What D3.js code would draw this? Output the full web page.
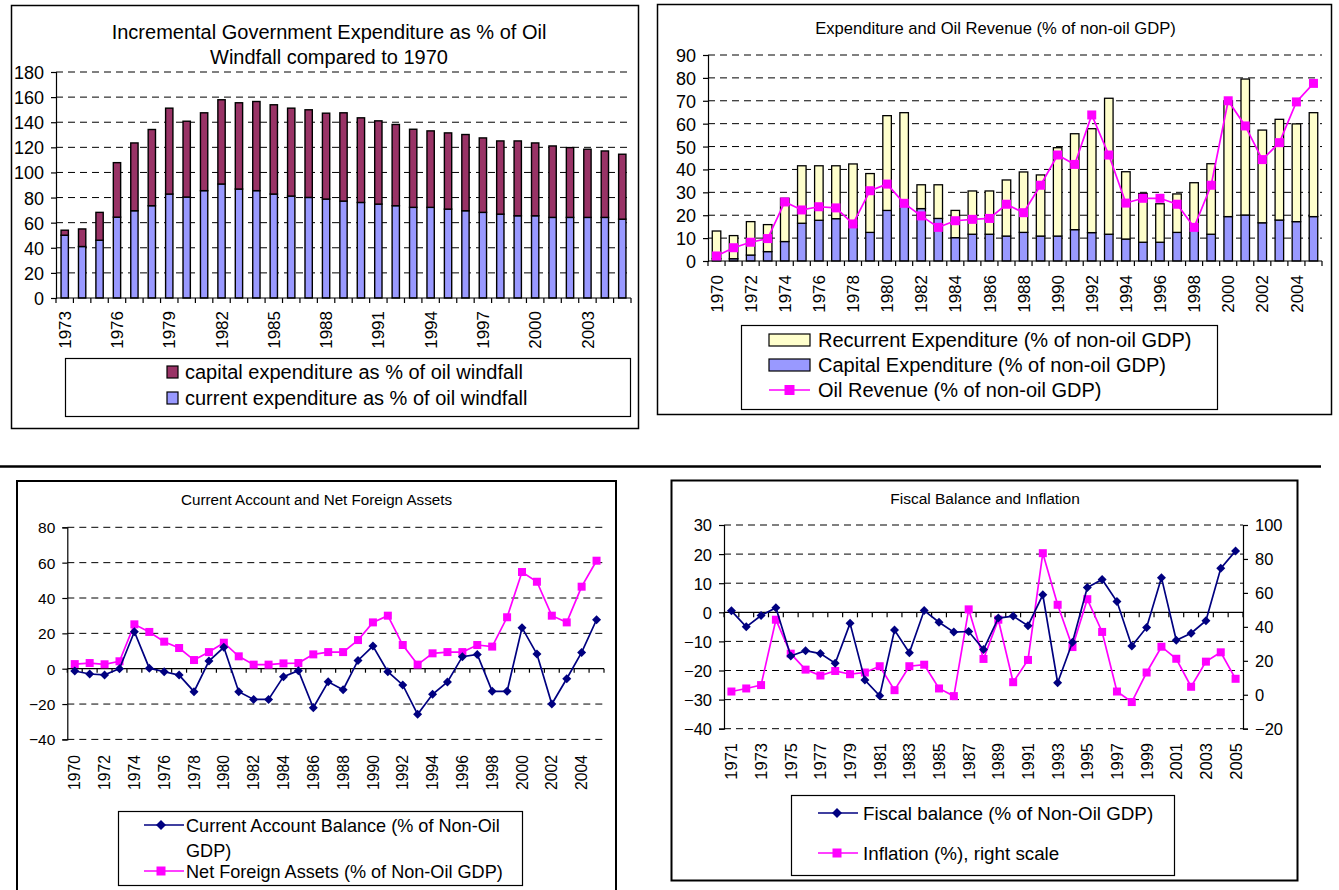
<!DOCTYPE html>
<html>
<head>
<meta charset="utf-8">
<script src="https://cdn.jsdelivr.net/npm/d3@7"></script>
<style>
body { margin: 0; background: #fff; }
svg text { font-family: "Liberation Sans", Arial, Helvetica, sans-serif; fill: #000; }
</style>
</head>
<body>
<svg id="chart" width="1339" height="890"></svg>
<script>
// ---- data ----
var yearsA = [1973, 1974, 1975, 1976, 1977, 1978, 1979, 1980, 1981, 1982, 1983, 1984, 1985, 1986, 1987, 1988, 1989,
    1990, 1991, 1992, 1993, 1994, 1995, 1996, 1997, 1998, 1999, 2000, 2001, 2002, 2003, 2004, 2005];
var currentExpWindfall = [50, 41, 46, 64.4, 69.5, 73.5, 82.8, 80.4, 85.5, 90.8, 86.8, 85.5, 82.8, 81.2, 80.1, 78.8, 77.2,
    76.1, 74.8, 73.5, 72.2, 72.2, 70.8, 69.5, 68.2, 66.8, 65.5, 65.5, 64.2, 64.2, 64.2, 64.2, 62.8];
var capitalExpWindfall = [4, 14, 22.2, 43.4, 54, 60.7, 68.4, 60.4, 62, 67.1, 68.7, 71, 71.1, 70, 69.8, 68.4, 70.3,
    67.4, 66.3, 64.7, 62.2, 60.9, 60.7, 60.7, 59.3, 58.3, 59.6, 58, 56.9, 55.6, 54.3, 52.9, 51.7];

var yearsB = [1970, 1971, 1972, 1973, 1974, 1975, 1976, 1977, 1978, 1979, 1980, 1981, 1982, 1983, 1984, 1985, 1986, 1987,
    1988, 1989, 1990, 1991, 1992, 1993, 1994, 1995, 1996, 1997, 1998, 1999, 2000, 2001, 2002, 2003, 2004, 2005];
var capitalExp = [1, 1, 2.6, 4.1, 8.5, 16.5, 17.8, 18.5, 15.5, 12.5, 22.1, 24, 22.9, 18.6, 10.2, 11.7, 11.7, 10.9,
    12.5, 10.9, 10.9, 13.7, 12.4, 11.7, 9.6, 8.2, 8.2, 12.5, 14, 11.7, 19.4, 20.1, 16.7, 17.9, 17.2, 19.4];
var recurrentExp = [12.1, 10.1, 14.6, 11.8, 18.9, 25.1, 23.8, 23.1, 26.9, 25.7, 41.4, 40.8, 10.4, 14.7, 11.9, 18.9, 18.9, 24.5,
    26.4, 26.7, 38.6, 41.9, 45.4, 59.4, 29.4, 21.3, 16.8, 16.8, 20.2, 30.8, 50.6, 59.4, 40.5, 44.0, 42.7, 45.4];
var oilRevenue = [2.2, 5.8, 8.2, 9.8, 25.8, 22.3, 23.7, 23.2, 16.2, 30.7, 33.6, 25.2, 19.7, 14.7, 17.6, 18.2, 18.6, 24.8,
    21.1, 33.1, 46.3, 42.2, 63.8, 46.3, 25.3, 27.4, 27.4, 24.8, 14.7, 33.1, 70.0, 59.0, 44.3, 51.7, 69.5, 77.6];

var currentAccount = [-1.3, -3.0, -3.5, 0, 20.9, 0.3, -1.7, -3.6, -13.0, 4.3, 12.1, -13.0, -17.4, -17.4, -4.5, -1.1, -22.1, -7.4,
    -11.9, 4.7, 12.8, -1.7, -9.2, -25.8, -14.5, -7.5, 6.8, 8.1, -12.8, -12.8, 23.2, 8.3, -20.0, -5.7, 9.2, 27.7];
var netForeignAssets = [2.6, 3.2, 2.5, 4.2, 25.1, 20.8, 15.3, 11.7, 4.9, 9.4, 14.7, 7.0, 2.3, 2.3, 3.0, 3.2, 8.1, 9.4,
    9.4, 16.2, 26.2, 30.0, 13.4, 2.3, 8.7, 9.4, 9.4, 13.4, 12.5, 29.1, 54.7, 49.2, 30.0, 26.2, 46.4, 61.1];

var yearsC = [1971, 1972, 1973, 1974, 1975, 1976, 1977, 1978, 1979, 1980, 1981, 1982, 1983, 1984, 1985, 1986, 1987, 1988,
    1989, 1990, 1991, 1992, 1993, 1994, 1995, 1996, 1997, 1998, 1999, 2000, 2001, 2002, 2003, 2004, 2005];
var fiscalBalance = [0.5, -5.0, -1.1, 1.6, -15.0, -13.2, -14.2, -17.5, -3.8, -23.3, -28.7, -6.1, -13.9, 0.6, -3.4, -6.8, -6.6, -12.8,
    -2.0, -1.3, -4.6, 6.0, -24.2, -10.3, 8.5, 11.3, 3.7, -11.6, -5.2, 11.9, -9.6, -7.2, -2.9, 15.1, 21.1];
var inflation = [1.9, 3.7, 5.7, 44.2, 24.2, 14.8, 11.3, 14.0, 12.1, 13.1, 16.8, 2.7, 16.8, 17.7, 3.7, -0.8, 50.3, 21.1,
    44.2, 7.4, 20.5, 83.4, 53.0, 28.1, 56.3, 37.0, 1.9, -4.3, 13.1, 28.3, 21.2, 4.7, 19.5, 25.0, 9.4];

// tick labels
var ticksA = [0, 20, 40, 60, 80, 100, 120, 140, 160, 180];
var ticksB = [0, 10, 20, 30, 40, 50, 60, 70, 80, 90];
var ticksC = [-40, -20, 0, 20, 40, 60, 80];
var ticksD = [-40, -30, -20, -10, 0, 10, 20, 30];
var ticksDRight = [-20, 0, 20, 40, 60, 80, 100];

var MAGENTA = '#FF00FF', NAVY = '#000080';
var svg = d3.select('#chart');
svg.append('rect').attr('width', 1339).attr('height', 890).attr('fill', '#fff');

function frame(x, y, w, h, sw) {
    svg.append('rect').attr('x', x).attr('y', y).attr('width', w).attr('height', h)
        .attr('fill', 'none').attr('stroke', '#000').attr('stroke-width', sw);
}

function text(g, x, y, s, size, anchor) {
    return g.append('text').attr('x', x).attr('y', y).attr('text-anchor', anchor || 'middle')
        .style('font-size', size + 'px').text(s);
}

function grid(g, y, vals, x0, x1) {
    g.selectAll(null).data(vals).enter().append('line')
        .attr('x1', x0).attr('x2', x1)
        .attr('y1', function(d) { return y(d); })
        .attr('y2', function(d) { return y(d); })
        .attr('stroke', '#000').attr('stroke-width', 1).attr('stroke-dasharray', '7,5');
}

function yAxis(g, y, vals, xPos, size, right) {
    var ax = (right ? d3.axisRight(y) : d3.axisLeft(y)).tickValues(vals).tickSize(5).tickPadding(7).tickFormat(d3.format('d'));
    var a = g.append('g').attr('transform', 'translate(' + xPos + ',0)').call(ax);
    a.select('.domain').attr('stroke', '#000').attr('stroke-width', 1.2);
    a.selectAll('.tick line').attr('stroke', '#000').attr('stroke-width', 1.2);
    a.selectAll('.tick text').style('font-size', size + 'px').attr('font-family', null).attr('dy', '0.36em');
    a.attr('font-family', null).attr('font-size', null);
    return a;
}

// horizontal category axis with a tick at every category boundary
function catAxis(g, x, yPos, tickLen) {
    var half = (x.step() - x.bandwidth()) / 2;
    var edges = x.domain().map(function(d) { return x(d) - half; });
    edges.push(x.range()[1]);
    g.append('line').attr('x1', x.range()[0]).attr('x2', x.range()[1]).attr('y1', yPos).attr('y2', yPos)
        .attr('stroke', '#000').attr('stroke-width', 1.2);
    g.selectAll(null).data(edges).enter().append('line')
        .attr('x1', function(d) { return d; }).attr('x2', function(d) { return d; })
        .attr('y1', yPos).attr('y2', yPos + tickLen)
        .attr('stroke', '#000').attr('stroke-width', 1.2);
}

function yearLabels(g, x, vals, yEnd, size) {
    g.selectAll(null).data(vals).enter().append('text')
        .attr('transform', function(d) {
            return 'translate(' + (x(d) + x.bandwidth() / 2) + ',' + yEnd + ') rotate(-90)';
        })
        .attr('text-anchor', 'end').attr('dy', '0.36em')
        .style('font-size', size + 'px').text(function(d) { return d; });
}

function square(g, px, py, s, color) {
    g.append('rect').attr('x', px - s / 2).attr('y', py - s / 2).attr('width', s).attr('height', s).attr('fill', color);
}
function diamond(g, px, py, s, color) {
    g.append('path').attr('d', d3.symbol(d3.symbolSquare, s * s / 2)())
        .attr('transform', 'translate(' + px + ',' + py + ') rotate(45)').attr('fill', color);
}

function lineSeries(g, x, y, cats, vals, color, marker, ms) {
    var cx = function(d, i) { return x(cats[i]) + x.bandwidth() / 2; };
    var line = d3.line().x(cx).y(function(d) { return y(d); });
    g.append('path').datum(vals).attr('d', line).attr('fill', 'none').attr('stroke', color).attr('stroke-width', 1.7);
    vals.forEach(function(v, i) {
        marker(g, cx(v, i), y(v), ms, color);
    });
}

// ============ Panel 1 ============
frame(11.5, 5.5, 627, 423, 1.5);
var g1 = svg.append('g');
text(g1, 329, 39, 'Incremental Government Expenditure as % of Oil', 20);
text(g1, 329, 64, 'Windfall compared to 1970', 20);

var x1 = d3.scaleBand().domain(yearsA).range([56, 631]).paddingInner(0.58).paddingOuter(0.29);
var y1 = d3.scaleLinear().domain([0, 180]).range([298, 72]);
grid(g1, y1, ticksA.slice(1), 56, 631);

var rows1 = yearsA.map(function(yr, i) {
    return { year: yr, current: currentExpWindfall[i], capital: capitalExpWindfall[i] };
});
var stack1 = d3.stack().keys(['current', 'capital'])(rows1);
var colors1 = { current: '#9999FF', capital: '#993366' };
g1.selectAll('g.layer').data(stack1).enter().append('g')
    .attr('fill', function(d) { return colors1[d.key]; })
    .selectAll('rect').data(function(d) { return d; }).enter().append('rect')
    .attr('x', function(d) { return x1(d.data.year); })
    .attr('width', x1.bandwidth())
    .attr('y', function(d) { return y1(d[1]); })
    .attr('height', function(d) { return y1(d[0]) - y1(d[1]); })
    .attr('stroke', '#000').attr('stroke-width', 1.4);

yAxis(g1, y1, ticksA, 56, 18);
catAxis(g1, x1, 298, 5);
yearLabels(g1, x1, yearsA.filter(function(d, i) { return i % 3 === 0; }), 311, 17);

g1.append('rect').attr('x', 65.5).attr('y', 358.5).attr('width', 565).attr('height', 58)
    .attr('fill', '#fff').attr('stroke', '#000').attr('stroke-width', 1.2);
[['capital', 'capital expenditure as % of oil windfall', 372], ['current', 'current expenditure as % of oil windfall', 398]]
    .forEach(function(it) {
        g1.append('rect').attr('x', 167).attr('y', it[2] - 6).attr('width', 11).attr('height', 12)
            .attr('fill', colors1[it[0]]).attr('stroke', '#000').attr('stroke-width', 1.2);
        text(g1, 185, it[2] + 7, it[1], 20, 'start');
    });

// ============ Panel 2 ============
frame(657.5, 4.5, 674, 410, 1.5);
var g2 = svg.append('g');
text(g2, 995.5, 34, 'Expenditure and Oil Revenue (% of non-oil GDP)', 16.6);

var x2 = d3.scaleBand().domain(yearsB).range([708, 1322]).paddingInner(0.5).paddingOuter(0.25);
var y2 = d3.scaleLinear().domain([0, 90]).range([261, 55]);
grid(g2, y2, ticksB.slice(1), 708, 1322);

var rows2 = yearsB.map(function(yr, i) {
    return { year: yr, capital: capitalExp[i], recurrent: recurrentExp[i] };
});
var stack2 = d3.stack().keys(['capital', 'recurrent'])(rows2);
var colors2 = { capital: '#9999FF', recurrent: '#FFFFCC' };
g2.selectAll('g.layer').data(stack2).enter().append('g')
    .attr('fill', function(d) { return colors2[d.key]; })
    .selectAll('rect').data(function(d) { return d; }).enter().append('rect')
    .attr('x', function(d) { return x2(d.data.year); })
    .attr('width', x2.bandwidth())
    .attr('y', function(d) { return y2(d[1]); })
    .attr('height', function(d) { return y2(d[0]) - y2(d[1]); })
    .attr('stroke', '#000').attr('stroke-width', 1.3);

yAxis(g2, y2, ticksB, 708, 18);
catAxis(g2, x2, 261, 5);
yearLabels(g2, x2, yearsB.filter(function(d, i) { return i % 2 === 0; }), 275, 17);
lineSeries(g2, x2, y2, yearsB, oilRevenue, MAGENTA, square, 9);

g2.append('rect').attr('x', 741.5).attr('y', 325.5).attr('width', 476).attr('height', 84)
    .attr('fill', '#fff').attr('stroke', '#000').attr('stroke-width', 1.2);
[['recurrent', 'Recurrent Expenditure (% of non-oil GDP)', 340], ['capital', 'Capital Expenditure (% of non-oil GDP)', 365]]
    .forEach(function(it) {
        g2.append('rect').attr('x', 769).attr('y', it[2] - 6).attr('width', 41).attr('height', 12)
            .attr('fill', colors2[it[0]]).attr('stroke', '#000').attr('stroke-width', 1.2);
        text(g2, 818, it[2] + 7, it[1], 20, 'start');
    });
g2.append('line').attr('x1', 769).attr('x2', 810).attr('y1', 390).attr('y2', 390).attr('stroke', MAGENTA).attr('stroke-width', 1.7);
square(g2, 789.5, 390, 10, MAGENTA);
text(g2, 818, 397, 'Oil Revenue (% of non-oil GDP)', 20, 'start');

// ============ separator ============
svg.append('line').attr('x1', 0).attr('x2', 1321).attr('y1', 466.5).attr('y2', 466.5).attr('stroke', '#000').attr('stroke-width', 2.5);

// ============ Panel 3 ============
frame(17, 481, 599, 430, 2);
var g3 = svg.append('g');
text(g3, 316.5, 505, 'Current Account and Net Foreign Assets', 15.2);

var x3 = d3.scaleBand().domain(yearsB).range([67.3, 604]).paddingInner(0.5).paddingOuter(0.25);
var y3 = d3.scaleLinear().domain([-40, 80]).range([739.4, 527.3]);
grid(g3, y3, ticksC.filter(function(d) { return d !== 0; }), 67.3, 604);
yAxis(g3, y3, ticksC, 67.3, 15.5);
catAxis(g3, x3, y3(0), 4);
yearLabels(g3, x3, yearsB.filter(function(d, i) { return i % 2 === 0; }), 755, 15.7);
lineSeries(g3, x3, y3, yearsB, netForeignAssets, MAGENTA, square, 8);
lineSeries(g3, x3, y3, yearsB, currentAccount, NAVY, diamond, 9);

g3.append('rect').attr('x', 118.5).attr('y', 811.5).attr('width', 404).attr('height', 74)
    .attr('fill', '#fff').attr('stroke', '#000').attr('stroke-width', 1.2);
g3.append('line').attr('x1', 144).attr('x2', 184).attr('y1', 825).attr('y2', 825).attr('stroke', NAVY).attr('stroke-width', 1.7);
diamond(g3, 161, 825, 10, NAVY);
text(g3, 186, 831.5, 'Current Account Balance (% of Non-Oil', 18.1, 'start');
text(g3, 186, 856.5, 'GDP)', 18.1, 'start');
g3.append('line').attr('x1', 144).attr('x2', 184).attr('y1', 871).attr('y2', 871).attr('stroke', MAGENTA).attr('stroke-width', 1.7);
square(g3, 161, 871, 9, MAGENTA);
text(g3, 186, 877.5, 'Net Foreign Assets (% of Non-Oil GDP)', 18.1, 'start');

// ============ Panel 4 ============
frame(671.5, 480.5, 626, 400, 2);
var g4 = svg.append('g');
text(g4, 985, 504, 'Fiscal Balance and Inflation', 15.5);

var x4 = d3.scaleBand().domain(yearsC).range([724, 1243]).paddingInner(0.5).paddingOuter(0.25);
var y4 = d3.scaleLinear().domain([-40, 30]).range([728.7, 525]);
var y4r = d3.scaleLinear().domain([-20, 100]).range([728.7, 525]);
grid(g4, y4, ticksD.filter(function(d) { return d !== 0; }), 724, 1243);
yAxis(g4, y4, ticksD, 724, 16.5);
yAxis(g4, y4r, ticksDRight, 1243, 16.5, true);
catAxis(g4, x4, y4(0), 5);
yearLabels(g4, x4, yearsC.filter(function(d, i) { return i % 2 === 0; }), 743, 16.5);
lineSeries(g4, x4, y4r, yearsC, inflation, MAGENTA, square, 8);
lineSeries(g4, x4, y4, yearsC, fiscalBalance, NAVY, diamond, 9);

g4.append('rect').attr('x', 791.5).attr('y', 795.5).attr('width', 383).attr('height', 80)
    .attr('fill', '#fff').attr('stroke', '#000').attr('stroke-width', 1.2);
g4.append('line').attr('x1', 818).attr('x2', 858).attr('y1', 813).attr('y2', 813).attr('stroke', NAVY).attr('stroke-width', 1.7);
diamond(g4, 837, 813, 10, NAVY);
text(g4, 863, 819.6, 'Fiscal balance (% of Non-Oil GDP)', 18.8, 'start');
g4.append('line').attr('x1', 818).attr('x2', 858).attr('y1', 853).attr('y2', 853).attr('stroke', MAGENTA).attr('stroke-width', 1.7);
square(g4, 837, 853, 9, MAGENTA);
text(g4, 863, 859.6, 'Inflation (%), right scale', 18.8, 'start');
</script>
</body>
</html>
